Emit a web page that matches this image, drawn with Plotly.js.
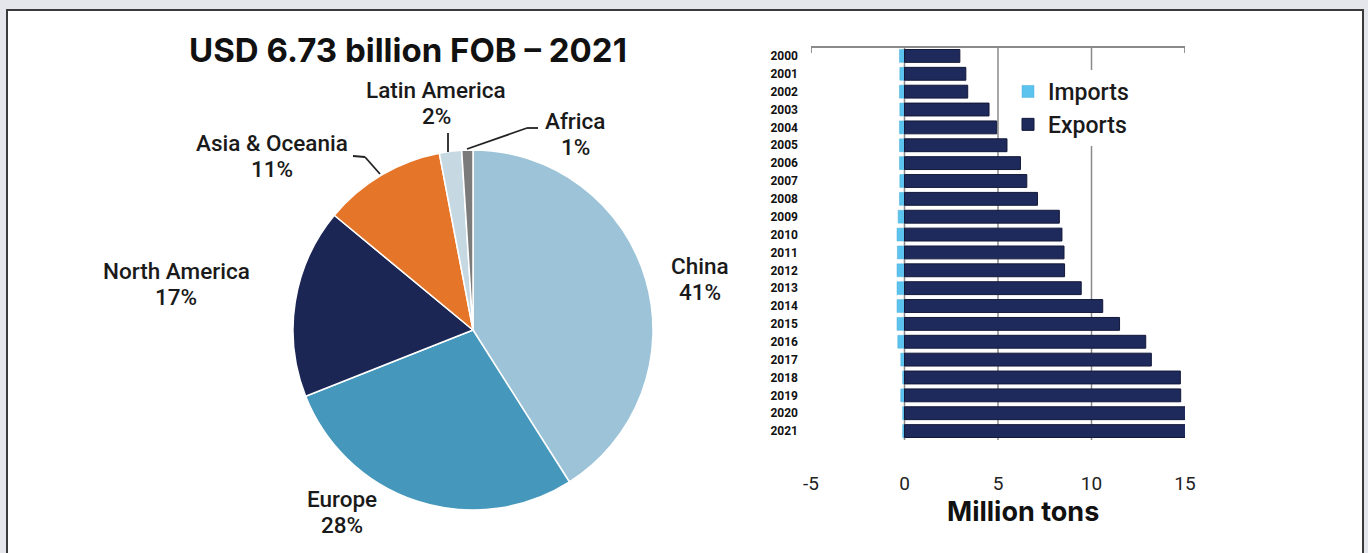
<!DOCTYPE html>
<html>
<head>
<meta charset="utf-8">
<script src="https://cdn.plot.ly/plotly-3.0.1.min.js"></script>
<style>html,body{margin:0;padding:0;background:#e5e6eb;}#chart{width:1368px;height:553px;}</style>
</head>
<body>
<div id="chart"></div>
<script>
// ---- Data ----
const regions = ["China", "Europe", "North America", "Asia & Oceania", "Latin America", "Africa"];
const shares = [41, 28, 17, 11, 2, 1];
const years = ["2000","2001","2002","2003","2004","2005","2006","2007","2008","2009","2010",
               "2011","2012","2013","2014","2015","2016","2017","2018","2019","2020","2021"];
const exportsMt = [2.96, 3.28, 3.38, 4.52, 4.93, 5.48, 6.2, 6.54, 7.11, 8.28, 8.42,
                   8.53, 8.56, 9.45, 10.6, 11.5, 12.9, 13.2, 14.75, 14.77, 15.1, 15.1];
const importsMt = [-0.27, -0.25, -0.27, -0.25, -0.27, -0.27, -0.27, -0.25, -0.27, -0.34, -0.4,
                   -0.38, -0.4, -0.4, -0.4, -0.4, -0.36, -0.2, -0.1, -0.2, -0.1, -0.1];
const xTicks = [-5, 0, 5, 10, 15];
const gridAt = [5, 10];
const chartTitle = "USD 6.73 billion FOB – 2021";
const xTitle = "Million tons";

// ---- Styles ----
const W = 1368, H = 553;
const px = v => v / W;
const py = v => 1 - v / H;
const sliceColors = ["#9cc3d8", "#4597bb", "#1c2654", "#e57528", "#c6d9e3", "#7b7b7b"];
const labelPos = [[700, 279], [342, 512], [176, 284], [272, 156], [436, 103], [575, 134]];

const pieTrace = {
  type: "pie",
  labels: regions,
  values: shares,
  sort: false,
  direction: "clockwise",
  rotation: 0,
  textinfo: "none",
  hoverinfo: "label+percent",
  showlegend: false,
  marker: { colors: sliceColors, line: { color: "#ffffff", width: 1.5 } },
  domain: { x: [px(293), px(653)], y: [py(510), py(150)] }
};

const importsTrace = {
  type: "bar", orientation: "h", name: "Imports",
  y: years, x: importsMt, width: 0.72,
  marker: { color: "#5cc3ee", line: { color: "#4aaed8", width: 0.5 } },
  xaxis: "x", yaxis: "y"
};
const exportsTrace = {
  type: "bar", orientation: "h", name: "Exports",
  y: years, x: exportsMt, width: 0.72,
  marker: { color: "#1f2a5c", line: { color: "#121838", width: 1 } },
  xaxis: "x", yaxis: "y"
};

const plotTop = 47, plotBot = 440;
const shapes = [
  { type: "rect", xref: "paper", yref: "paper", x0: px(7), x1: px(1363), y0: py(10), y1: -0.05,
    fillcolor: "#ffffff", line: { color: "#3a3a3a", width: 2 }, layer: "below" },
  { type: "line", xref: "x", yref: "paper", x0: 0, x1: 0, y0: py(plotBot), y1: py(plotTop),
    line: { color: "#8a8a8a", width: 1.5 }, layer: "below" },
  { type: "line", xref: "x", yref: "paper", x0: xTicks[0], x1: xTicks[xTicks.length - 1], y0: py(plotTop), y1: py(plotTop),
    line: { color: "#8a8a8a", width: 1.8 } },
  { type: "line", xref: "x", yref: "paper", x0: xTicks[0], x1: xTicks[0], y0: py(plotTop), y1: py(plotTop + 6),
    line: { color: "#8a8a8a", width: 1.8 } },
  { type: "line", xref: "x", yref: "paper", x0: xTicks[xTicks.length - 1], x1: xTicks[xTicks.length - 1], y0: py(plotTop), y1: py(plotTop + 6),
    line: { color: "#8a8a8a", width: 1.8 } }
];
gridAt.forEach(g => shapes.push({ type: "line", xref: "x", yref: "paper", x0: g, x1: g,
  y0: py(plotBot), y1: py(plotTop), line: { color: "#8a8a8a", width: 1.5 }, layer: "below" }));

// leader lines for small pie slices
const leaders = [
  [[448, 133], [448, 152]],
  [[467, 149], [527, 128], [538, 128]],
  [[353, 156], [365, 157], [380, 174]]
];
leaders.forEach(pts => {
  for (let i = 0; i < pts.length - 1; i++) {
    shapes.push({ type: "line", xref: "paper", yref: "paper",
      x0: px(pts[i][0]), y0: py(pts[i][1]), x1: px(pts[i + 1][0]), y1: py(pts[i + 1][1]),
      line: { color: "#222222", width: 1.8 } });
  }
});

const labelFont = { family: "Roboto, sans-serif", size: 22.5, color: "#1a1a1a", weight: 500 };
const annotations = [];
regions.forEach((r, i) => {
  annotations.push({
    xref: "paper", yref: "paper", x: px(labelPos[i][0]), y: py(labelPos[i][1] - 13),
    xanchor: "center", yanchor: "middle", showarrow: false, text: r, font: labelFont
  });
  annotations.push({
    xref: "paper", yref: "paper", x: px(labelPos[i][0]), y: py(labelPos[i][1] + 13),
    xanchor: "center", yanchor: "middle", showarrow: false, text: shares[i] + "%", font: labelFont
  });
});
annotations.push({
  xref: "paper", yref: "paper", x: px(1023), y: py(511),
  xanchor: "center", yanchor: "middle", showarrow: false,
  text: xTitle,
  font: { family: "Inter, sans-serif", size: 27, color: "#111111", weight: 700 }
});

const layout = {
  width: W, height: H,
  margin: { l: 0, r: 0, t: 0, b: 0 },
  paper_bgcolor: "#e5e6eb",
  plot_bgcolor: "rgba(0,0,0,0)",
  barmode: "relative",
  title: {
    text: chartTitle, xref: "paper", yref: "paper", x: px(408), y: py(50),
    xanchor: "center", yanchor: "middle",
    font: { family: "Inter, sans-serif", size: 33, color: "#111111", weight: 700 }
  },
  xaxis: {
    domain: [px(811), px(1185)], range: [-5, 15],
    tickvals: xTicks, ticktext: xTicks.map(String), ticks: "",
    showgrid: false, zeroline: false, showline: false,
    ticklabelstandoff: 30,
    tickfont: { family: "Roboto, sans-serif", size: 19, color: "#222222" }
  },
  yaxis: {
    domain: [py(plotBot), py(plotTop)],
    type: "category", categoryorder: "array", categoryarray: years,
    autorange: "reversed",
    showgrid: false, zeroline: false, showline: false, ticks: "",
    ticklabelstandoff: 12,
    tickfont: { family: "Roboto, sans-serif", size: 12, color: "#111111", weight: 700 }
  },
  legend: {
    x: px(1008), y: py(70), xanchor: "left", yanchor: "top",
    bgcolor: "#ffffff", traceorder: "normal",
    font: { family: "Roboto, sans-serif", size: 23, color: "#1a1a1a", weight: 500 },
    itemwidth: 30, tracegroupgap: 0
  },
  shapes: shapes,
  annotations: annotations
};

Plotly.newPlot("chart", [pieTrace, importsTrace, exportsTrace], layout, { displayModeBar: false, staticPlot: true });
</script>
</body>
</html>
